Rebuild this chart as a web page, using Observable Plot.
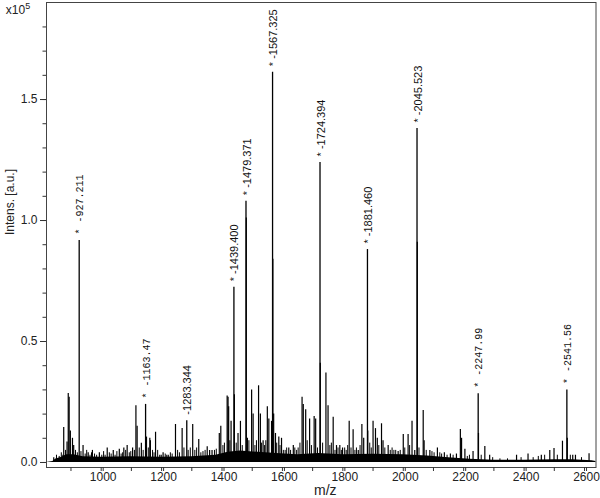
<!DOCTYPE html>
<html><head><meta charset="utf-8">
<script src="https://cdn.jsdelivr.net/npm/d3@7"></script>
<script src="https://cdn.jsdelivr.net/npm/@observablehq/plot@0.6"></script>
<style>body{margin:0;background:#fff;} #chart{width:600px;height:498px;}</style>
</head><body><div id="chart"></div>
<script>
// Labeled peaks (m/z position, intensity x10^5, label text, monospace?)
const labelMz   = [927.211, 1147, 1283.344, 1439.400, 1479.371, 1567.325, 1724.394, 1881.460, 2045.523, 2247.99, 2541.56];
const labelInt  = [0.917, 0.24, 0.173, 0.724, 1.08, 1.613, 1.24, 0.88, 1.38, 0.284, 0.30];
const labelText = ["* -927.211", "* -1163.47", "-1283.344", "* -1439.400", "* -1479.371", "* -1567.325", "* -1724.394", "* -1881.460", "* -2045.523", "* -2247.99", "* -2541.56"];
const labelMono = [true, true, false, false, false, false, false, false, false, true, true];

// Other visible peaks [m/z, intensity x10^5]
const peaks = [
  [843,0.02],[876,0.145],[887,0.085],[891,0.285],[894,0.27],[898,0.13],[905,0.10],[909,0.07],
  [940,0.07],[957,0.04],[971,0.05],[994,0.04],
  [1020,0.06],[1040,0.05],[1060,0.055],[1075,0.06],[1086,0.07],[1104,0.06],[1115,0.235],[1119,0.15],
  [1133,0.08],[1150,0.105],[1161,0.10],[1163,0.09],[1180,0.125],[1194,0.03],[1205,0.04],[1222,0.03],
  [1246,0.157],[1268,0.14],[1303,0.157],[1323,0.095],[1351,0.065],[1359,0.05],[1367,0.05],[1391,0.12],[1396,0.15],
  [1417,0.275],[1420,0.27],[1422,0.23],[1430,0.17],[1441,0.28],[1453,0.12],[1461,0.17],[1480.4,1.01],[1484,0.10],
  [1498,0.30],[1503,0.20],[1521,0.317],[1527,0.20],[1536,0.09],[1550,0.23],[1555,0.18],[1564,0.17],
  [1568.3,0.84],[1571,0.20],[1577,0.12],[1588,0.105],[1597,0.10],
  [1621,0.06],[1636,0.07],[1665,0.27],[1669,0.24],[1677,0.218],[1690,0.18],[1705,0.19],[1710,0.18],
  [1725.4,0.41],[1744,0.37],[1751,0.235],[1768,0.187],[1779,0.07],[1790,0.07],[1799,0.06],
  [1821,0.17],[1834,0.135],[1851,0.05],[1863,0.157],[1869,0.10],[1882.5,0.13],[1900,0.17],[1908,0.14],
  [1914,0.10],[1928,0.16],[1933,0.09],[1950,0.07],[1983,0.045],
  [2000,0.116],[2016,0.116],[2029,0.17],[2038,0.05],[2046.5,0.91],[2066,0.215],[2069,0.09],[2088,0.05],
  [2113,0.06],[2136,0.04],[2156,0.035],[2176,0.035],[2189,0.136],[2193,0.10],
  [2204,0.055],[2231,0.045],[2249,0.12],[2270,0.066],[2286,0.03],[2375,0.03],[2413,0.035],[2457,0.03],
  [2485,0.05],[2499,0.058],[2527,0.088],[2543,0.10],[2561,0.03],[2570,0.03],[2615,0.036]
];

// Small noise peaks [m/z, intensity x10^5]
const grass = [
  [852,0.03],[861,0.025],[868,0.04],[873,0.03],[882,0.05],[915,0.05],[921,0.04],[933,0.045],[947,0.035],
  [952,0.05],[963,0.03],[968,0.04],[978,0.035],[985,0.03],[1002,0.03],[1008,0.045],[1013,0.03],[1027,0.04],
  [1033,0.035],[1046,0.03],[1052,0.045],[1066,0.035],[1071,0.04],[1081,0.05],[1093,0.04],[1098,0.045],
  [1110,0.05],[1126,0.06],[1139,0.05],[1156,0.06],[1170,0.05],[1175,0.04],[1187,0.05],[1199,0.03],
  [1212,0.035],[1217,0.03],[1229,0.04],[1235,0.035],[1253,0.05],[1259,0.04],[1274,0.06],[1288,0.05],
  [1295,0.06],[1310,0.05],[1316,0.06],[1330,0.04],[1337,0.045],[1344,0.05],[1375,0.05],[1381,0.055],
  [1403,0.07],[1408,0.08],[1426,0.09],[1447,0.08],[1467,0.07],[1489,0.09],[1509,0.07],[1514,0.09],
  [1531,0.08],[1541,0.07],[1545,0.09],[1581,0.08],[1592,0.07],[1603,0.05],[1609,0.05],[1614,0.06],
  [1627,0.05],[1641,0.06],[1647,0.05],[1652,0.06],[1658,0.08],[1682,0.09],[1696,0.07],[1716,0.06],
  [1733,0.08],[1757,0.07],[1762,0.08],[1774,0.05],[1784,0.06],[1795,0.05],[1806,0.06],[1811,0.05],
  [1816,0.07],[1827,0.06],[1840,0.05],[1845,0.06],[1857,0.07],[1889,0.08],[1894,0.06],[1919,0.07],
  [1939,0.06],[1957,0.05],[1963,0.06],[1969,0.05],[1975,0.05],[1990,0.05],[2005,0.06],[2021,0.07],
  [2052,0.06],[2076,0.05],[2095,0.045],[2102,0.04],[2121,0.04],[2127,0.035],[2145,0.03],[2165,0.03],
  [2212,0.025],[2219,0.03],[2258,0.03],[2296,0.02],[2320,0.015],[2345,0.015],[2390,0.02],[2430,0.02],
  [2447,0.025],[2468,0.03],[2510,0.03],[2553,0.03],[2590,0.02]
];

// Baseline noise band level [m/z, intensity x10^5]
const base = [
  [819,0.0],[840,0.004],[850,0.014],[870,0.022],[885,0.032],[910,0.032],[940,0.024],[1000,0.022],[1100,0.024],
  [1200,0.022],[1300,0.024],[1380,0.03],[1420,0.042],[1460,0.047],[1520,0.042],[1580,0.037],[1650,0.032],
  [1720,0.037],[1800,0.032],[1900,0.034],[2000,0.032],[2080,0.027],[2150,0.02],[2220,0.013],[2300,0.009],
  [2400,0.009],[2500,0.011],[2560,0.011],[2625,0.007],[2638,0.004]
];

const xLabelTicks = [1000, 1200, 1400, 1600, 1800, 2000, 2200, 2400, 2600];
const xMinorTicks = [900, 1000, 1100, 1200, 1300, 1400, 1500, 1600, 1700, 1800, 1900, 2000, 2100, 2200, 2300, 2400, 2500, 2600];
const yLabelTicks = [0, 0.5, 1.0, 1.5];
const yMinorTicks = [0, 0.1, 0.2, 0.3, 0.4, 0.5, 0.6, 0.7, 0.8, 0.9, 1.0, 1.1, 1.2, 1.3, 1.4, 1.5, 1.6, 1.7, 1.8];

const labeled = labelMz.map((m, i) => ({mz: m, v: labelInt[i], text: labelText[i], mono: labelMono[i]}));
const peakRows = peaks.map(([mz, v]) => ({mz, v}));
const grassRows = grass.map(([mz, v]) => ({mz, v}));
const baseRows = base.map(([mz, v]) => ({mz, v}));

const sans = "'Liberation Sans', Arial, sans-serif";
const mono = "'Liberation Mono', 'DejaVu Sans Mono', monospace";

const chart = Plot.plot({
  width: 600, height: 498,
  marginLeft: 46, marginRight: 4.5, marginTop: 2, marginBottom: 31,
  x: {domain: [819, 2638]},
  y: {domain: [-0.0207, 1.901]},
  style: {fontFamily: sans, fontSize: "12px", color: "#222", background: "#fff"},
  marks: [
    Plot.areaY(baseRows, {x: "mz", y1: 0, y2: "v", fill: "#000"}),
    Plot.ruleX(grassRows, {x: "mz", y1: 0, y2: "v", stroke: "#000", strokeWidth: 1}),
    Plot.ruleX(peakRows, {x: "mz", y1: 0, y2: "v", stroke: "#000", strokeWidth: 1.2}),
    Plot.ruleX(labeled, {x: "mz", y1: 0, y2: "v", stroke: "#000", strokeWidth: 1.3}),
    Plot.text(labeled.filter(d => !d.mono), {x: "mz", y: "v", text: "text", rotate: -90, textAnchor: "start", dy: -6, dx: 1, fontSize: 11, fontFamily: sans, fill: "#111"}),
    Plot.text(labeled.filter(d => d.mono), {x: "mz", y: "v", text: "text", rotate: -90, textAnchor: "start", dy: -6, dx: 1, fontSize: 10, fontFamily: mono, fill: "#111"}),
    Plot.frame({stroke: "#444"}),
    Plot.axisX({ticks: xMinorTicks, tickSize: 4, tickFormat: () => "", stroke: "#333", label: null}),
    Plot.axisX({ticks: xLabelTicks, tickSize: 4, tickPadding: 1, tickFormat: d => String(d), fontSize: 12, dx: 2, stroke: "#333", fill: "#222", label: null}),
    Plot.axisY({ticks: yMinorTicks, tickSize: 3.5, tickFormat: () => "", stroke: "#333", label: null}),
    Plot.axisY({ticks: yLabelTicks, tickSize: 6, tickPadding: 3, tickFormat: d3.format(".1f"), fontSize: 12, stroke: "#333", fill: "#222", label: null}),
    Plot.text(["Intens. [a.u.]"], {frameAnchor: "left", dx: -36, rotate: -90, fontSize: 12, fontFamily: sans, fill: "#222"}),
    Plot.text(["m/z"], {frameAnchor: "bottom", lineAnchor: "middle", dx: 4, dy: 23.5, fontSize: 14, fontFamily: sans, fill: "#222"})
  ]
});
document.getElementById("chart").appendChild(chart);

const svg = d3.select(chart);
const t = svg.append("text").attr("x", 18).attr("y", 14).attr("font-family", sans).attr("font-size", 12).attr("fill", "#222");
t.append("tspan").text("x10");
t.append("tspan").attr("font-size", 9).attr("dy", -5).text("5");
</script>
</body></html>
